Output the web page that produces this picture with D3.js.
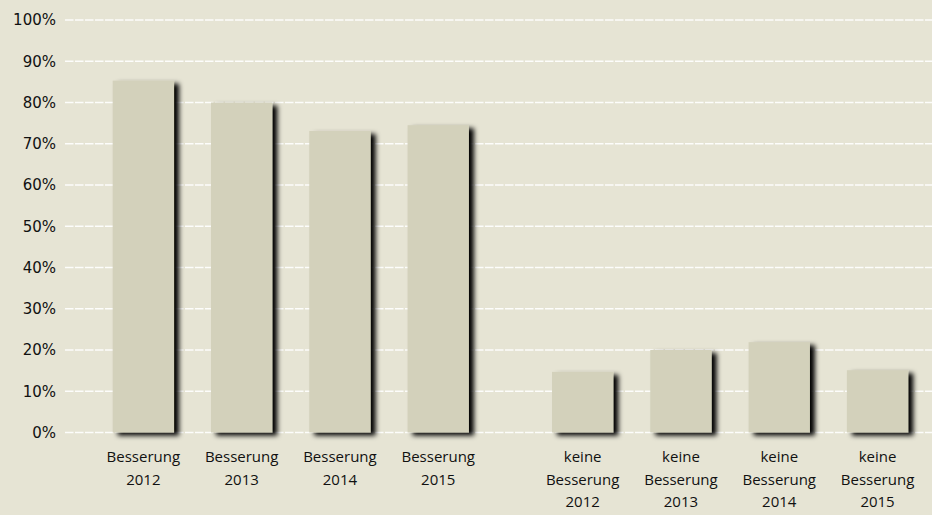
<!DOCTYPE html>
<html>
<head>
<meta charset="utf-8">
<style>
  body { margin: 0; background: #e6e4d4; }
  svg { display: block; }
</style>
</head>
<body>
<svg id="chart" width="932" height="515"></svg>
<script src="https://d3js.org/d3.v7.min.js"></script>
<script>
// values (percent)
var groups = ["Besserung", "keine Besserung"];
var years = ["2012", "2013", "2014", "2015"];
var besserung = [85.3, 80, 73.1, 74.5];
var keineBesserung = [14.7, 20, 21.9, 15.1];
var yTicks = [0, 10, 20, 30, 40, 50, 60, 70, 80, 90, 100];

var rows = [];
years.forEach(function (yr, i) {
  rows.push({ group: groups[0], year: yr, value: besserung[i] });
});
years.forEach(function (yr, i) {
  rows.push({ group: groups[1], year: yr, value: keineBesserung[i] });
});

var svg = d3.select("#chart");

var defs = svg.append("defs");
var f = defs.append("filter")
    .attr("id", "shadow")
    .attr("x", "-20%").attr("y", "-20%")
    .attr("width", "150%").attr("height", "150%");
f.append("feDropShadow")
    .attr("dx", 5).attr("dy", 3)
    .attr("stdDeviation", 2.8)
    .attr("flood-color", "#000")
    .attr("flood-opacity", 1);

var y = d3.scaleLinear()
    .domain([0, 100])
    .range([432.5, 20]);

// outer scale places the two groups, inner scale the years in a group
var x0 = d3.scaleBand()
    .domain(groups)
    .range([94.2, 926.7])
    .paddingInner(0.105)
    .paddingOuter(0);

var x1 = d3.scaleBand()
    .domain(years)
    .range([0, x0.bandwidth()])
    .paddingInner(0.376)
    .paddingOuter(0.188);

// grid lines
svg.append("g")
    .attr("class", "grid")
  .selectAll("line")
  .data(yTicks)
  .join("line")
    .attr("x1", 65)
    .attr("x2", 932)
    .attr("y1", function (d) { return y(d); })
    .attr("y2", function (d) { return y(d); })
    .attr("stroke", "#ffffff")
    .attr("stroke-opacity", 0.9)
    .attr("stroke-width", 1.6)
    .attr("stroke-dasharray", "8.5,1.5");

// y axis labels
var yAxis = d3.axisLeft(y)
    .tickValues(yTicks)
    .tickSize(0)
    .tickPadding(0)
    .tickFormat(function (d) { return d + "%"; });

svg.append("g")
    .attr("transform", "translate(56,0)")
    .call(yAxis)
    .call(function (g) { g.select(".domain").remove(); })
    .selectAll("text")
    .attr("font-family", "DejaVu Sans")
    .attr("font-size", 15)
    .attr("fill", "#111");

// bars
svg.append("g")
  .selectAll("rect")
  .data(rows)
  .join("rect")
    .attr("x", function (d) { return x0(d.group) + x1(d.year); })
    .attr("y", function (d) { return y(d.value); })
    .attr("width", x1.bandwidth())
    .attr("height", function (d) { return y(0) - y(d.value); })
    .attr("fill", "#d3d1bb")
    .attr("filter", "url(#shadow)");

// category labels, top aligned
var labels = svg.append("g")
  .selectAll("text")
  .data(rows)
  .join("text")
    .attr("text-anchor", "middle")
    .attr("font-family", "Open Sans")
    .attr("font-size", 15)
    .attr("fill", "#111")
    .attr("x", function (d) { return x0(d.group) + x1(d.year) + x1.bandwidth() / 2; })
    .attr("y", 462);

labels.each(function (d) {
  var lines = d.group.split(" ").concat([d.year]);
  var t = d3.select(this);
  var cx = t.attr("x");
  lines.forEach(function (l, i) {
    t.append("tspan")
      .attr("x", cx)
      .attr("dy", i === 0 ? 0 : 22.5)
      .text(l);
  });
});
</script>
</body>
</html>
